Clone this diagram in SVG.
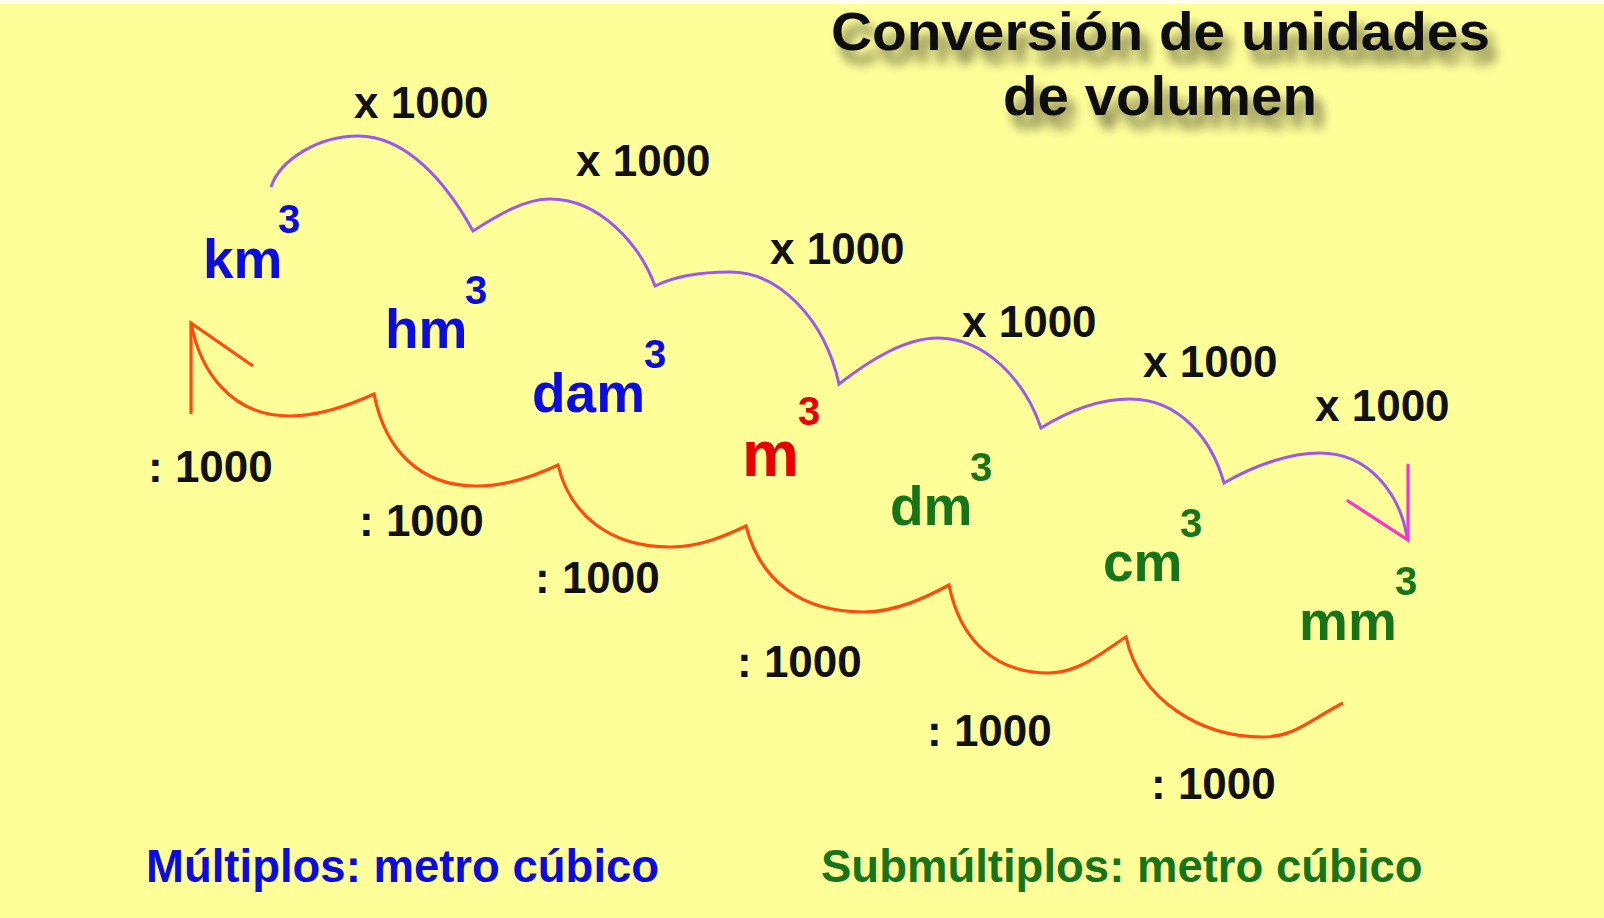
<svg xmlns="http://www.w3.org/2000/svg" width="1604" height="918" viewBox="0 0 1604 918">
<defs>
<style>
.t{font-family:"Liberation Sans",Arial,sans-serif;font-weight:bold}
.lbl{font-size:44px;fill:#111}
.u{font-size:55px}
.s{font-size:40px}
.blue{fill:#0C0CE0}
.red{fill:#E80000}
.green{fill:#17741A}
.pur{fill:none;stroke:#9C58EA;stroke-width:3;stroke-linejoin:miter}
.org{fill:none;stroke:#FF4A10;stroke-width:3.2;stroke-linejoin:miter}
.mag{fill:none;stroke:#FF30CC;stroke-width:3.2;stroke-linecap:round}
</style>
<filter id="sh" x="-10%" y="-40%" width="120%" height="200%">
<feGaussianBlur in="SourceAlpha" stdDeviation="6"/>
<feOffset dx="8" dy="13" result="b"/>
<feComponentTransfer><feFuncA type="linear" slope="0.55"/></feComponentTransfer>
<feMerge><feMergeNode/><feMergeNode in="SourceGraphic"/></feMerge>
</filter>
</defs>
<rect x="0" y="0" width="1604" height="918" fill="#FFFF99"/>
<rect x="0" y="0" width="1604" height="4" fill="#FFFFF2"/>
<g id="title" class="t" filter="url(#sh)" fill="#111">
<text x="831" y="50" font-size="54" textLength="659" lengthAdjust="spacingAndGlyphs">Conversión de unidades</text>
<text x="1003" y="115" font-size="55" textLength="314" lengthAdjust="spacingAndGlyphs">de volumen</text>
</g>
<g id="connectors">
<path class="pur" d="M271,187 C280,160 318,136 358,136 C405,136 445,180 473,231 C500,214 525,199 550,199 C600,199 640,245 655,286 C675,276 700,272 730,272 C780,272 825,320 839,384 C870,360 905,338 938,338 C985,338 1025,380 1041,428 C1070,410 1100,399 1130,399 C1180,399 1212,440 1224,483 C1255,465 1290,453 1320,453 C1370,453 1400,495 1407,537"/>
<path class="mag" d="M1408,465 L1408,540 L1348,501"/>
<path class="org" d="M191,323 C200,370 230,416 290,416 C320,416 350,405 374,394 C385,450 420,486 476,486 C505,486 535,476 558,465 C570,515 610,547 670,547 C700,547 725,536 746,526 C760,580 800,612 864,612 C895,612 925,598 949,585 C960,640 995,673 1049,673 C1080,673 1105,650 1126,637 C1140,700 1200,737 1263,737 C1295,737 1310,720 1343,703"/>
<path class="org" d="M191,414 L191,323 L253,366"/>
</g>
<g id="mult-labels" class="t lbl">
<text x="354" y="118">x 1000</text>
<text x="576" y="176">x 1000</text>
<text x="770" y="264">x 1000</text>
<text x="962" y="337">x 1000</text>
<text x="1143" y="377">x 1000</text>
<text x="1315" y="421">x 1000</text>
</g>
<g id="div-labels" class="t lbl">
<text x="148" y="482">: 1000</text>
<text x="359" y="536">: 1000</text>
<text x="535" y="593">: 1000</text>
<text x="737" y="677">: 1000</text>
<text x="927" y="746">: 1000</text>
<text x="1151" y="799">: 1000</text>
</g>
<g id="km3" class="t blue"><text class="u" x="203" y="278">km</text><text class="s" x="278" y="233">3</text></g>
<g id="hm3" class="t blue"><text class="u" x="385" y="348">hm</text><text class="s" x="465" y="304">3</text></g>
<g id="dam3" class="t blue"><text class="u" x="532" y="412">dam</text><text class="s" x="644" y="368">3</text></g>
<g id="m3" class="t red"><text x="742" y="476" font-size="64">m</text><text class="s" x="798" y="425">3</text></g>
<g id="dm3" class="t green"><text class="u" x="890" y="525">dm</text><text class="s" x="970" y="481">3</text></g>
<g id="cm3" class="t green"><text class="u" x="1103" y="581">cm</text><text class="s" x="1180" y="537">3</text></g>
<g id="mm3" class="t green"><text class="u" x="1299" y="640">mm</text><text class="s" x="1395" y="595">3</text></g>
<g id="legend" class="t" font-size="45.5">
<text class="blue" x="146" y="882">Múltiplos: metro cúbico</text>
<text class="green" x="821" y="882">Submúltiplos: metro cúbico</text>
</g>
</svg>
